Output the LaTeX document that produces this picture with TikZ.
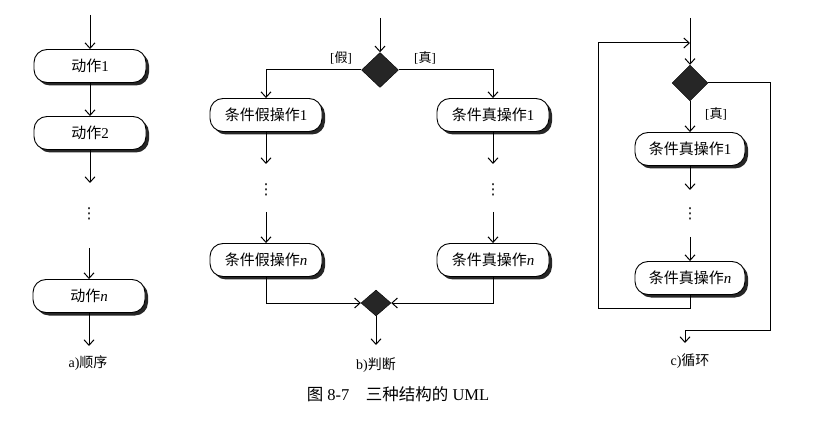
\documentclass[tikz,border=0pt]{standalone}
\usepackage{fontspec}
\setmainfont{Liberation Serif}
\newfontfamily\cjk{Noto Sans CJK SC}
\newfontfamily\sym{DejaVu Sans}
\usetikzlibrary{arrows.meta,shadows,shapes.geometric}
\newcommand\zh[1]{{\cjk #1}}
\begin{document}
\begin{tikzpicture}[x=1pt,y=-1pt,
  act/.style={draw, line width=0.9pt, rounded corners=13pt, minimum width=112pt,
    minimum height=33pt, fill=white, inner sep=0pt,
    drop shadow={shadow xshift=3pt, shadow yshift=-3pt, fill=black!85, opacity=1},
    font=\fontsize{15}{17}\selectfont},
  dec/.style={draw, diamond, fill=black!85, inner sep=0pt, aspect=1},
  flow/.style={line width=1pt, -{Straight Barb[length=5.5pt,width=10pt]}},
  lbl/.style={font=\fontsize{14}{16}\selectfont, inner sep=0pt},
  tag/.style={font=\fontsize{13}{15}\selectfont, inner sep=0pt},
  dots/.style={font=\sym\fontsize{15}{17}\selectfont, inner sep=0pt}]
\useasboundingbox (0,0) rectangle (825,422);

% ---------- a) sequence ----------
\coordinate (at) at (90,15);
\node[act] (a1) at (90,66) {\zh{动作}1};
\node[act] (a2) at (90,133) {\zh{动作}2};
\coordinate (ae1) at (90,183);
\node[dots] (ad) at (89,214) {⋮};
\coordinate (as2) at (89,248);
\node[act] (an) at (89,296) {\zh{动作}\textit{n}};
\coordinate (ae) at (89,346);
\node[lbl] (alab) at (88,363) {a)\zh{顺序}};
\draw[flow] (at) -- (a1.north);
\draw[flow] (a1.south) -- (a2.north);
\draw[flow] (a2.south) -- (ae1);
\draw[flow] (as2) -- (an.north);
\draw[flow] (an.south) -- (ae);

% ---------- b) decision ----------
\coordinate (bt) at (380,18);
\node[dec, minimum width=37pt, minimum height=35pt] (d1) at (380,70) {};
\node[act] (lb1) at (266,115) {\zh{条件假操作}1};
\node[act] (rb1) at (493,115) {\zh{条件真操作}1};
\node[tag] (lf) at (341,58) {[\zh{假}]};
\node[tag] (lt) at (425,58) {[\zh{真}]};
\coordinate (lbe) at (266,164);
\coordinate (rbe) at (493,164);
\node[dots] (lbd) at (266,190) {⋮};
\node[dots] (rbd) at (493,190) {⋮};
\coordinate (lbs) at (266,212);
\coordinate (rbs) at (493,212);
\node[act] (lbn) at (266,260) {\zh{条件假操作}\textit{n}};
\node[act] (rbn) at (493,260) {\zh{条件真操作}\textit{n}};
\node[dec, minimum width=30pt, minimum height=26pt] (d2) at (376,303) {};
\coordinate (be) at (376,345);
\node[lbl] (blab) at (376,365) {b)\zh{判断}};
\draw[flow] (bt) -- (d1.north);
\draw[flow] (d1.west) -| (lb1.north);
\draw[flow] (d1.east) -| (rb1.north);
\draw[flow] (lb1.south) -- (lbe);
\draw[flow] (rb1.south) -- (rbe);
\draw[flow] (lbs) -- (lbn.north);
\draw[flow] (rbs) -- (rbn.north);
\draw[flow] (lbn.south) |- (d2.west);
\draw[flow] (rbn.south) |- (d2.east);
\draw[flow] (d2.south) -- (be);

% ---------- c) loop ----------
\coordinate (ct) at (690,18);
\coordinate (cj) at (690,43);
\node[dec, minimum width=36pt, minimum height=36pt] (d3) at (690,83) {};
\node[tag] (ctl) at (716,114) {[\zh{真}]};
\node[act, minimum width=110pt] (c1) at (690,149) {\zh{条件真操作}1};
\coordinate (ce1) at (690,190);
\node[dots] (cd) at (690,214) {⋮};
\coordinate (cs) at (690,237);
\node[act, minimum width=110pt] (cn) at (690,278) {\zh{条件真操作}\textit{n}};
\coordinate (cb1) at (690,308);
\coordinate (cb2) at (598,308);
\coordinate (cb3) at (598,43);
\coordinate (cx1) at (770,83);
\coordinate (cx2) at (770,330);
\coordinate (cx3) at (685,330);
\coordinate (ce) at (685,343);
\node[lbl] (clab) at (690,361) {c)\zh{循环}};
\draw[flow] (ct) -- (d3.north);
\draw[flow] (d3.south) -- (c1.north);
\draw[flow] (c1.south) -- (ce1);
\draw[flow] (cs) -- (cn.north);
\draw[flow] (cn.south) -- (cb1) -- (cb2) -- (cb3) -- (cj);
\draw[flow] (d3.east) -- (cx1) -- (cx2) -- (cx3) -- (ce);

% ---------- caption ----------
\node[font=\fontsize{16.5}{19}\selectfont, inner sep=0pt] (cap) at (398,394)
  {\zh{图} 8-7\quad\zh{三种结构的} UML};
\end{tikzpicture}
\end{document}
